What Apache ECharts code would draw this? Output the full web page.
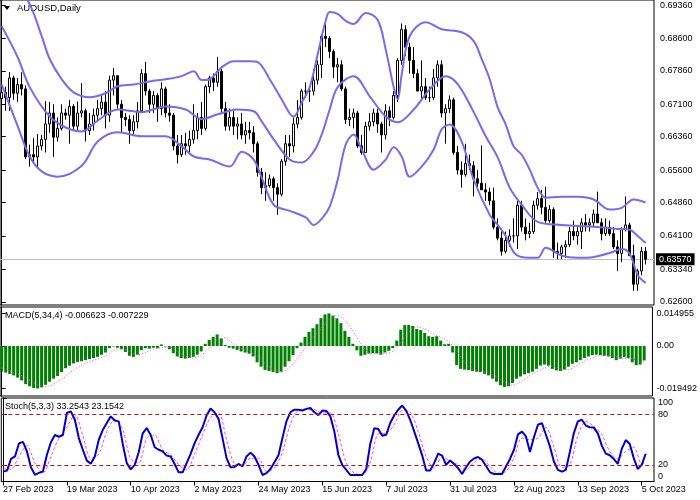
<!DOCTYPE html>
<html><head><meta charset="utf-8">
<script src="https://cdn.jsdelivr.net/npm/echarts@6/dist/echarts.min.js"></script>
<style>html,body{margin:0;padding:0;background:#fff}#c{width:700px;height:500px}</style>
</head><body><div id="c"></div>
<script>
// ---- tick labels ----
const dateLabels = ['27 Feb 2023','19 Mar 2023','10 Apr 2023','2 May 2023','24 May 2023','15 Jun 2023','7 Jul 2023','31 Jul 2023','22 Aug 2023','13 Sep 2023','5 Oct 2023'];
const dateTickBars = [0,16,32,48,64,80,96,112,128,144,160];
const priceTicks = [0.6260,0.6334,0.6410,0.6486,0.6560,0.6636,0.6710,0.6786,0.6860,0.6936];
const macdTicks = [-0.019492, 0, 0.014955];
const macdTickText = ['-0.019492','0.00','0.014955'];
const stochTicks = [0,20,80,100];
const stochLevels = [80,20];

// ---- candles (bar index 0..161) ----
const open = [0.6723,0.6737,0.6725,0.6770,0.6735,0.6755,0.6745,0.6590,0.6595,0.6590,
0.6615,0.6630,0.6665,0.6690,0.6635,0.6655,0.6690,0.6685,0.6705,0.6660,
0.6690,0.6695,0.6650,0.6665,0.6685,0.6700,0.6715,0.6685,0.6765,0.6775,
0.6710,0.6680,0.6675,0.6650,0.6670,0.6695,0.6780,0.6740,0.6710,0.6730,
0.6700,0.6745,0.6690,0.6685,0.6615,0.6595,0.6620,0.6615,0.6630,0.6650,
0.6680,0.6655,0.6750,0.6770,0.6760,0.6785,0.6700,0.6660,0.6680,0.6660,
0.6665,0.6640,0.6650,0.6645,0.6620,0.6555,0.6520,0.6525,0.6540,0.6520,
0.6505,0.6580,0.6620,0.6615,0.6665,0.6680,0.6740,0.6740,0.6740,0.6765,
0.6800,0.6865,0.6860,0.6830,0.6795,0.6800,0.6745,0.6675,0.6680,0.6690,
0.6615,0.6600,0.6660,0.6670,0.6690,0.6665,0.6640,0.6695,0.6680,0.6730,
0.6810,0.6880,0.6840,0.6810,0.6780,0.6740,0.6750,0.6725,0.6725,0.6770,
0.6800,0.6690,0.6700,0.6720,0.6600,0.6560,0.6550,0.6575,0.6570,0.6540,
0.6530,0.6515,0.6510,0.6490,0.6430,0.6405,0.6375,0.6400,0.6410,0.6410,
0.6480,0.6430,0.6415,0.6420,0.6480,0.6495,0.6475,0.6445,0.6470,0.6375,
0.6370,0.6385,0.6390,0.6420,0.6410,0.6420,0.6440,0.6435,0.6440,0.6460,
0.6440,0.6415,0.6430,0.6415,0.6385,0.6370,0.6425,0.6435,0.6365,0.6300,
0.6330,0.6375];
const high = [0.6748,0.6750,0.6783,0.6775,0.6770,0.6783,0.6753,0.6618,0.6633,0.6642,
0.6640,0.6717,0.6715,0.6710,0.6680,0.6710,0.6700,0.6720,0.6710,0.6716,
0.6758,0.6700,0.6690,0.6700,0.6720,0.6730,0.6740,0.6775,0.6793,0.6775,
0.6720,0.6690,0.6685,0.6685,0.6715,0.6790,0.6806,0.6745,0.6740,0.6735,
0.6760,0.6750,0.6710,0.6690,0.6640,0.6640,0.6645,0.6650,0.6710,0.6690,
0.6715,0.6755,0.6775,0.6780,0.6818,0.6790,0.6715,0.6700,0.6700,0.6680,
0.6690,0.6670,0.6670,0.6660,0.6625,0.6565,0.6555,0.6550,0.6545,0.6530,
0.6585,0.6640,0.6640,0.6680,0.6720,0.6745,0.6760,0.6750,0.6790,0.6810,
0.6870,0.6900,0.6865,0.6835,0.6815,0.6810,0.6750,0.6700,0.6700,0.6695,
0.6640,0.6670,0.6690,0.6700,0.6700,0.6670,0.6710,0.6705,0.6740,0.6815,
0.6894,0.6890,0.6850,0.6840,0.6790,0.6810,0.6770,0.6750,0.6790,0.6810,
0.6810,0.6710,0.6730,0.6725,0.6615,0.6580,0.6620,0.6595,0.6580,0.6560,
0.6616,0.6530,0.6520,0.6520,0.6450,0.6420,0.6420,0.6425,0.6450,0.6490,
0.6490,0.6450,0.6440,0.6490,0.6510,0.6515,0.6522,0.6480,0.6475,0.6395,
0.6390,0.6400,0.6430,0.6445,0.6430,0.6450,0.6460,0.6450,0.6470,0.6511,
0.6450,0.6450,0.6445,0.6430,0.6400,0.6430,0.6500,0.6440,0.6390,0.6335,
0.6385,0.6385];
const low = [0.6705,0.6695,0.6695,0.6720,0.6715,0.6730,0.6585,0.6568,0.6575,0.6565,
0.6605,0.6600,0.6645,0.6590,0.6625,0.6650,0.6675,0.6620,0.6650,0.6650,
0.6680,0.6625,0.6640,0.6650,0.6670,0.6685,0.6655,0.6670,0.6730,0.6700,
0.6645,0.6660,0.6620,0.6640,0.6655,0.6690,0.6730,0.6690,0.6690,0.6670,
0.6685,0.6680,0.6670,0.6605,0.6575,0.6590,0.6595,0.6600,0.6620,0.6630,
0.6640,0.6650,0.6735,0.6740,0.6750,0.6690,0.6650,0.6650,0.6640,0.6630,
0.6630,0.6620,0.6630,0.6600,0.6545,0.6505,0.6490,0.6520,0.6490,0.6458,
0.6500,0.6570,0.6590,0.6600,0.6655,0.6675,0.6725,0.6715,0.6730,0.6755,
0.6770,0.6840,0.6815,0.6770,0.6760,0.6740,0.6665,0.6660,0.6655,0.6610,
0.6595,0.6600,0.6650,0.6660,0.6645,0.6600,0.6630,0.6660,0.6675,0.6715,
0.6800,0.6820,0.6780,0.6770,0.6740,0.6720,0.6720,0.6715,0.6720,0.6750,
0.6680,0.6620,0.6690,0.6595,0.6550,0.6520,0.6545,0.6560,0.6500,0.6520,
0.6515,0.6490,0.6480,0.6425,0.6400,0.6365,0.6370,0.6385,0.6395,0.6380,
0.6420,0.6400,0.6405,0.6415,0.6470,0.6460,0.6440,0.6440,0.6360,0.6357,
0.6357,0.6360,0.6385,0.6400,0.6390,0.6380,0.6420,0.6420,0.6430,0.6440,
0.6400,0.6410,0.6410,0.6380,0.6330,0.6350,0.6420,0.6365,0.6285,0.6285,
0.6320,0.6345];
const close = [0.6737,0.6725,0.6770,0.6735,0.6755,0.6745,0.6590,0.6595,0.6590,0.6615,
0.6630,0.6665,0.6690,0.6635,0.6655,0.6690,0.6685,0.6705,0.6660,0.6690,
0.6695,0.6650,0.6665,0.6685,0.6700,0.6715,0.6685,0.6765,0.6775,0.6710,
0.6680,0.6675,0.6650,0.6670,0.6695,0.6780,0.6740,0.6710,0.6730,0.6700,
0.6745,0.6690,0.6685,0.6615,0.6595,0.6620,0.6615,0.6630,0.6650,0.6680,
0.6655,0.6750,0.6770,0.6760,0.6785,0.6700,0.6660,0.6680,0.6660,0.6665,
0.6640,0.6650,0.6645,0.6620,0.6555,0.6520,0.6525,0.6540,0.6520,0.6505,
0.6580,0.6620,0.6615,0.6665,0.6680,0.6740,0.6740,0.6740,0.6765,0.6800,
0.6865,0.6860,0.6830,0.6795,0.6800,0.6745,0.6675,0.6680,0.6690,0.6615,
0.6600,0.6660,0.6670,0.6690,0.6665,0.6640,0.6695,0.6680,0.6730,0.6810,
0.6880,0.6840,0.6810,0.6780,0.6740,0.6750,0.6725,0.6725,0.6770,0.6800,
0.6690,0.6700,0.6720,0.6600,0.6560,0.6550,0.6575,0.6570,0.6540,0.6530,
0.6515,0.6510,0.6490,0.6430,0.6405,0.6375,0.6400,0.6410,0.6410,0.6480,
0.6430,0.6415,0.6420,0.6480,0.6495,0.6475,0.6445,0.6470,0.6375,0.6370,
0.6385,0.6390,0.6420,0.6410,0.6420,0.6440,0.6435,0.6440,0.6460,0.6440,
0.6415,0.6430,0.6415,0.6385,0.6370,0.6425,0.6435,0.6365,0.6300,0.6330,
0.6375,0.6357];

// ---- Bollinger bands: [bar, price] ----
const upperBand = [[0,0.7016],[4,0.6977],[7,0.6938],[10,0.6865],[12,0.6813],[15,0.6767],[18,0.6737],[22,0.6726],[26,0.6735],[29,0.6751],[33,0.6755],[37,0.6762],[41,0.6767],[45,0.6774],[48,0.6785],[50,0.6765],[52,0.6767],[55,0.6794],[58,0.6808],[62,0.6808],[64,0.6806],[67,0.6767],[70,0.6721],[72,0.6689],[73,0.6682],[75,0.6714],[77,0.6749],[79,0.6824],[81,0.6900],[82,0.6920],[84,0.6916],[86,0.6900],[88,0.6893],[91,0.6918],[94,0.6902],[96,0.6835],[98,0.6749],[99,0.6721],[100,0.6778],[102,0.6865],[106,0.6897],[110,0.6881],[115,0.6874],[118,0.6854],[120,0.6813],[122,0.6767],[124,0.6703],[126,0.6664],[128,0.6614],[130,0.6595],[132,0.6561],[134,0.6520],[136,0.6497],[140,0.6499],[144,0.6499],[148,0.6493],[152,0.6470],[155,0.6474],[158,0.6493],[161,0.6486]];
const middleBand = [[0,0.6888],[4,0.6817],[7,0.6749],[12,0.6682],[16,0.6657],[20,0.6648],[24,0.6673],[29,0.6698],[35,0.6692],[41,0.6705],[46,0.6698],[50,0.6676],[54,0.6687],[59,0.6698],[63,0.6694],[65,0.6671],[68,0.6630],[72,0.6584],[75,0.6577],[78,0.6602],[80,0.6641],[82,0.6698],[84,0.6749],[88,0.6774],[92,0.6728],[96,0.6682],[99,0.6669],[103,0.6698],[107,0.6744],[111,0.6774],[114,0.6756],[118,0.6692],[121,0.6637],[124,0.6589],[127,0.6520],[130,0.6481],[134,0.6442],[140,0.6435],[148,0.6431],[154,0.6426],[157,0.6424],[159,0.6410],[161,0.6394]];
const lowerBand = [[0,0.6755],[4,0.6660],[7,0.6591],[10,0.6557],[14,0.6545],[20,0.6570],[24,0.6625],[29,0.6646],[35,0.6637],[41,0.6637],[45,0.6614],[48,0.6591],[52,0.6584],[57,0.6568],[60,0.6602],[63,0.6584],[65,0.6543],[68,0.6481],[72,0.6467],[76,0.6452],[78,0.6435],[80,0.6449],[82,0.6477],[84,0.6538],[86,0.6618],[88,0.6641],[90,0.6607],[93,0.6561],[96,0.6584],[98,0.6612],[100,0.6591],[102,0.6545],[105,0.6568],[108,0.6607],[110,0.6653],[112,0.6664],[115,0.6625],[118,0.6538],[122,0.6458],[124,0.6435],[126,0.6410],[128,0.6373],[130,0.6362],[134,0.6360],[136,0.6383],[140,0.6365],[144,0.6360],[148,0.6362],[152,0.6371],[155,0.6380],[157,0.6369],[159,0.6321],[161,0.6303]];

// ---- MACD(5,34,4) ----
const macdMain = [-0.0118,-0.0122,-0.0128,-0.0135,-0.0145,-0.0158,-0.0175,-0.0185,-0.0193,-0.0195,
-0.0190,-0.0178,-0.0164,-0.0150,-0.0138,-0.0120,-0.0102,-0.0090,-0.0080,-0.0073,
-0.0070,-0.0065,-0.0060,-0.0055,-0.0050,-0.0040,-0.0030,-0.0010,-0.0002,-0.0008,
-0.0015,-0.0027,-0.0045,-0.0050,-0.0040,-0.0019,-0.0010,-0.0012,-0.0008,-0.0010,
0.0007,-0.0002,-0.0015,-0.0033,-0.0048,-0.0056,-0.0058,-0.0055,-0.0050,-0.0040,
-0.0025,0.0010,0.0028,0.0042,0.0053,0.0035,0.0005,-0.0008,-0.0012,-0.0018,
-0.0025,-0.0030,-0.0035,-0.0048,-0.0075,-0.0095,-0.0110,-0.0115,-0.0120,-0.0125,
-0.0118,-0.0095,-0.0070,-0.0042,-0.0010,0.0016,0.0042,0.0065,0.0082,0.0100,
0.0128,0.0145,0.01495,0.0140,0.0127,0.0105,0.0070,0.0042,0.0010,-0.0020,
-0.0045,-0.0040,-0.0035,-0.0033,-0.0034,-0.0040,-0.0030,-0.0022,-0.0010,0.0025,
0.0075,0.0096,0.0097,0.0092,0.0078,0.0073,0.0060,0.0045,0.0042,0.0045,
0.0025,0.0008,0.0010,-0.0030,-0.0088,-0.0105,-0.0108,-0.0110,-0.0115,-0.0118,
-0.0120,-0.0128,-0.0135,-0.0150,-0.0164,-0.0180,-0.0188,-0.0185,-0.0170,-0.0150,
-0.0140,-0.0130,-0.0125,-0.0118,-0.0105,-0.0090,-0.0085,-0.0090,-0.0105,-0.0112,
-0.0115,-0.0108,-0.0095,-0.0082,-0.0075,-0.0065,-0.0055,-0.0048,-0.0042,-0.0040,
-0.0042,-0.0045,-0.0048,-0.0055,-0.0065,-0.0058,-0.0050,-0.0055,-0.0075,-0.0088,
-0.0085,-0.006623];
const macdSignal = [[0,-0.0100],[2,-0.0115],[4,-0.0128],[6,-0.0145],[8,-0.0168],[10,-0.0185],[12,-0.0183],[14,-0.0165],[16,-0.0140],[18,-0.0110],[20,-0.0088],[22,-0.0072],[24,-0.0060],[26,-0.0045],[28,-0.0022],[30,-0.0010],[32,-0.0025],[34,-0.0040],[36,-0.0030],[38,-0.0014],[40,-0.0008],[42,-0.0005],[44,-0.0025],[46,-0.0048],[48,-0.0055],[50,-0.0042],[52,-0.0010],[54,0.0030],[56,0.0038],[58,0.0010],[60,-0.0012],[62,-0.0025],[64,-0.0045],[66,-0.0080],[68,-0.0107],[70,-0.0120],[72,-0.0100],[74,-0.0060],[76,-0.0010],[78,0.0040],[80,0.0080],[82,0.0122],[84,0.0140],[86,0.0118],[88,0.0070],[90,0.0010],[92,-0.0030],[94,-0.0036],[96,-0.0036],[98,-0.0025],[100,0.0015],[102,0.0065],[104,0.0088],[106,0.0078],[108,0.0058],[110,0.0042],[112,0.0020],[114,-0.0020],[116,-0.0075],[118,-0.0108],[120,-0.0116],[122,-0.0124],[124,-0.0140],[126,-0.0165],[128,-0.0180],[130,-0.0165],[132,-0.0140],[134,-0.0120],[136,-0.0102],[138,-0.0092],[140,-0.0105],[142,-0.0108],[144,-0.0090],[146,-0.0070],[148,-0.0055],[150,-0.0045],[152,-0.0044],[154,-0.0050],[156,-0.0057],[158,-0.0058],[160,-0.0072],[161,-0.007229]];

// ---- Stochastic(5,3,3) ----
const stochMain = [11.8,13,27,30,45.6,47.5,36,17,8,10.3,
12,32,47,55.7,53.6,55.7,82,84,74,52,
38,25,21.2,30,50,61.7,70,78,73,72,
45,22,14.5,20,35,57.7,64,55.7,41,38,
36,31,30,21,11,11,22,33,46,56,
65,79,87.3,83,75,51.6,28,17,17.5,21,
18,30,34.6,30,20,7.8,10,15,23,31.3,
52,72,83,86,86,85,87,88,83,79.5,
84.9,84.5,78,60,32,19.5,14,7.8,7.8,7.8,
7.8,15,45,63.8,63,54.8,56,70,79,86,
91,85,73.9,60,46,31.3,13.1,13.1,22,33.4,
31,20,25.2,21,16,9,17,24,27.5,29.3,
26,18.5,11,9,9,9,18,27,38,56.5,
59.7,54,35.3,53,68,70,56,42,24,14,
11.8,14,35.3,58,72,73.9,67,65,64.6,57.7,
43,33.4,31.5,27,21,39,49.6,45,28,15,
20,33.2543];
const stochSignal = [[0,15],[2,15],[4,30],[6,43],[8,22],[10,10],[12,30],[14,52],[16,65],[18,80],[20,55],[22,28],[24,33],[26,60],[28,74],[30,62],[32,27],[34,22],[36,52],[38,55],[40,38],[42,32],[44,20],[46,14],[48,33],[50,56],[52,77],[54,82],[56,50],[58,21],[60,19],[62,28],[64,28],[66,12],[68,16],[70,35],[72,69],[74,85],[76,86],[78,86],[80,82],[82,82],[84,57],[86,22],[88,10],[90,8],[92,23],[94,57],[96,58],[98,68],[100,85],[102,83],[104,60],[106,30],[108,16],[110,29],[112,25],[114,20],[116,14],[118,23],[120,27],[122,18],[124,10],[126,12],[128,28],[130,52],[132,50],[134,52],[136,65],[138,41],[140,17],[142,20],[144,55],[146,72],[148,66],[150,56],[152,36],[154,27],[156,36],[158,41],[160,21],[161,23.1542]];

// ---------------------------------------------------------------
const FONT = 'Liberation Sans';
const candleData = open.map((o, i) => [i, o, close[i], low[i], high[i]]);
const lastClose = close[close.length - 1];

const xBase = {type:'value', min:-0.425, max:163.075, axisLine:{show:false}, axisTick:{show:false}, axisLabel:{show:false}, splitLine:{show:false}};
const labelStyle = {fontSize:9, color:'#000', fontFamily:FONT};
const yBase = {type:'value', position:'right', splitLine:{show:false},
  axisLine:{show:true, lineStyle:{color:'#000', width:1}}};

const chart = echarts.init(document.getElementById('c'), null, {renderer:'canvas'});
chart.setOption({
  animation:false,
  backgroundColor:'#fff',
  grid:[
    {left:0, top:0, width:654, height:305, show:true, borderColor:'#000', borderWidth:1},
    {left:0, top:307, width:654, height:89, show:true, borderColor:'#000', borderWidth:1},
    {left:0, top:398, width:654, height:83.5, show:true, borderColor:'#000', borderWidth:1}
  ],
  xAxis:[
    Object.assign({}, xBase, {gridIndex:0}),
    Object.assign({}, xBase, {gridIndex:1}),
    Object.assign({}, xBase, {gridIndex:2,
      axisLine:{show:true, lineStyle:{color:'#000'}},
      axisTick:{show:true, customValues:dateTickBars, length:4, lineStyle:{color:'#000'}},
      axisLabel:Object.assign({show:true, customValues:dateTickBars, align:'left', margin:4,
        formatter:v => dateLabels[dateTickBars.indexOf(Math.round(v))]}, labelStyle)})
  ],
  yAxis:[
    Object.assign({}, yBase, {gridIndex:0, min:0.62526, max:0.69475,
      axisTick:{show:true, customValues:priceTicks, length:4, lineStyle:{color:'#000'}},
      axisLabel:Object.assign({customValues:priceTicks, margin:6, formatter:v => v.toFixed(5)}, labelStyle)}),
    Object.assign({}, yBase, {gridIndex:1, min:-0.02296, max:0.01792,
      axisTick:{show:true, customValues:macdTicks, length:4, lineStyle:{color:'#000'}},
      axisLabel:Object.assign({customValues:macdTicks, margin:4,
        formatter:v => { for (let k=0;k<macdTicks.length;k++) if (Math.abs(macdTicks[k]-v)<1e-9) return macdTickText[k]; return ''; }}, labelStyle)}),
    Object.assign({}, yBase, {gridIndex:2, min:0, max:100,
      axisTick:{show:true, customValues:stochTicks, length:4, lineStyle:{color:'#000'}},
      axisLabel:Object.assign({customValues:stochTicks, margin:4,
        verticalAlignMinLabel:'bottom', verticalAlignMaxLabel:'top',
        formatter:v => String(v)}, labelStyle)})
  ],
  series:[
    {type:'candlestick', xAxisIndex:0, yAxisIndex:0, data:candleData,
     encode:{x:0, y:[1,2,3,4]}, barWidth:3,
     itemStyle:{color:'#fff', color0:'#000', borderColor:'#000', borderColor0:'#000', borderWidth:1}},
    {type:'line', xAxisIndex:0, yAxisIndex:0, data:upperBand, showSymbol:false, smooth:0.35,
     lineStyle:{color:'#7b68ee', width:2}, z:3,
     markLine:{silent:true, symbol:['none','none'], animation:false, z:1, precision:5,
       lineStyle:{color:'#c0c0c0', width:1, type:'solid'},
       label:{show:true, position:'end', distance:2, formatter:lastClose.toFixed(5),
         backgroundColor:'#000', color:'#fff', padding:[2,3,1,3], fontSize:9, fontFamily:FONT},
       data:[{yAxis:lastClose}]}},
    {type:'line', xAxisIndex:0, yAxisIndex:0, data:middleBand, showSymbol:false, smooth:0.35,
     lineStyle:{color:'#7b68ee', width:2}, z:3},
    {type:'line', xAxisIndex:0, yAxisIndex:0, data:lowerBand, showSymbol:false, smooth:0.35,
     lineStyle:{color:'#7b68ee', width:2}, z:3},
    {type:'bar', xAxisIndex:1, yAxisIndex:1, data:macdMain.map((v,i)=>[i,v]), barWidth:3,
     itemStyle:{color:'#008000'}},
    {type:'line', xAxisIndex:1, yAxisIndex:1, data:macdSignal, showSymbol:false, smooth:0.3,
     lineStyle:{color:'#ff40ff', width:1, type:[1,2]}, z:3},
    {type:'line', xAxisIndex:2, yAxisIndex:2, data:stochSignal, showSymbol:false, smooth:0.3,
     lineStyle:{color:'#ff40ff', width:1, type:[3,2]}},
    {type:'line', xAxisIndex:2, yAxisIndex:2, data:stochMain.map((v,i)=>[i,v]), showSymbol:false,
     lineStyle:{color:'#0000cd', width:2}, z:3,
     markLine:{silent:true, symbol:['none','none'], animation:false, precision:2,
       lineStyle:{color:'#b01818', width:1, type:[4,3]}, label:{show:false},
       data:stochLevels.map(v => ({yAxis:v}))}}
  ],
  graphic:[
    {type:'polygon', shape:{points:[[4,6],[10,6],[7,10]]}, style:{fill:'#000'}},
    {type:'text', left:17, top:3, style:{text:'AUDUSD,Daily', font:'9.5px "Liberation Sans"', fill:'#000'}},
    {type:'text', left:5, top:311, style:{text:'MACD(5,34,4) -0.006623 -0.007229', font:'9px "Liberation Sans"', fill:'#000'}},
    {type:'text', left:5, top:402, style:{text:'Stoch(5,3,3) 33.2543 23.1542', font:'9px "Liberation Sans"', fill:'#000'}}
  ]
});
</script>
</body></html>
